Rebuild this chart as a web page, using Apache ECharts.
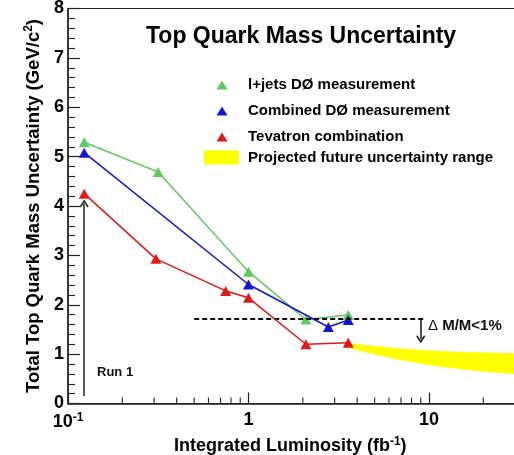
<!DOCTYPE html>
<html>
<head>
<meta charset="utf-8">
<script src="https://cdn.jsdelivr.net/npm/echarts@6/dist/echarts.min.js"></script>
<style>
  html, body { margin: 0; padding: 0; background: #fff; }
  #chart { width: 514px; height: 455px; }
</style>
</head>
<body>
<div id="chart"></div>
<script>
// Integrated luminosity (fb^-1) and total top-quark mass uncertainty (GeV/c^2)
const luminosityLjets = [0.123, 0.316, 1.0, 2.08, 3.57];
const uncertaintyLjets = [5.29, 4.69, 2.67, 1.70, 1.79];

const luminosityCombined = [0.123, 1.0, 2.77, 3.57];
const uncertaintyCombined = [5.08, 2.41, 1.55, 1.69];

const luminosityTevatron = [0.123, 0.307, 0.748, 1.0, 2.08, 3.57];
const uncertaintyTevatron = [4.25, 2.93, 2.28, 2.14, 1.20, 1.23];

// Projected band: lower and upper edge of the expected uncertainty
const projectionLuminosity = [3.57, 5, 7, 10, 15, 20, 30];
const projectionHigh = [1.22, 1.16, 1.11, 1.07, 1.04, 1.03, 1.01];
const projectionLow  = [1.13, 1.00, 0.88, 0.78, 0.70, 0.65, 0.60];

// 1% of the top mass, drawn as a dashed reference level
const onePercentLevel = 1.72;
const onePercentRange = [0.5, 9.3];
const onePercentArrowX = 9.0;
const onePercentArrowEnd = 1.30;

// Run 1 marker arrow
const run1Luminosity = 0.123;
const run1ArrowRange = [0.15, 4.05];

// Axis ticks
const yTickValues = [0, 1, 2, 3, 4, 5, 6, 7, 8];
const xMajorTicks = [0.1, 1, 10];
const xTickLabels = ['10^-1', '1', '10'];
const xMinorTicks = [0.2, 0.3, 0.4, 0.5, 0.6, 0.7, 0.8, 0.9,
                     2, 3, 4, 5, 6, 7, 8, 9, 20, 30, 40, 50, 60, 70, 80, 90];

const FONT = "'Liberation Sans', Arial, Helvetica, sans-serif";
const AXIS_COLOR = '#222';
const GREEN = '#62c862';
const BLUE = '#1414d2';
const RED = '#e01818';
const YELLOW = '#ffff00';

const pairs = (xs, ys) => xs.map((x, i) => [x, ys[i]]);
const chevron = 'path://M5,0 L10,7 L8.6,7.9 L5,2.6 L1.4,7.9 L0,7 Z';

const chart = echarts.init(document.getElementById('chart'), null, { renderer: 'canvas' });

const option = {
  animation: false,
  backgroundColor: '#fff',
  textStyle: { fontFamily: FONT },
  title: {
    text: 'Top Quark Mass Uncertainty',
    left: 146,
    top: 25,
    padding: 0,
    textStyle: { fontFamily: FONT, fontSize: 23, fontWeight: 'bold', color: '#000' }
  },
  legend: [
    {
      data: ['l+jets DØ measurement', 'Combined DØ measurement', 'Tevatron combination'],
      orient: 'vertical',
      left: 216.5,
      top: 77.5,
      itemWidth: 11,
      itemHeight: 9,
      itemGap: 11,
      icon: 'triangle',
      selectedMode: false,
      padding: 0,
      textStyle: { fontFamily: FONT, fontSize: 15, fontWeight: 'bold', color: '#000', padding: [0, 0, 0, 15.5] }
    },
    {
      data: ['Projected future uncertainty range'],
      orient: 'vertical',
      left: 204,
      top: 150,
      itemWidth: 35,
      itemHeight: 14,
      icon: 'rect',
      selectedMode: false,
      padding: 0,
      textStyle: { fontFamily: FONT, fontSize: 15, fontWeight: 'bold', color: '#000', padding: [0, 0, 0, 4] }
    }
  ],
  grid: {
    left: 68,
    top: 8.5,
    width: 541.5,
    height: 395,
    outerBoundsMode: 'none',
    containLabel: false,
    show: true,
    borderColor: AXIS_COLOR,
    borderWidth: 1.2,
    backgroundColor: 'transparent'
  },
  xAxis: {
    type: 'log',
    logBase: 10,
    min: 0.1,
    max: 100,
    name: 'Integrated Luminosity (fb{sup|-1})',
    nameLocation: 'middle',
    nameGap: 30,
    nameTextStyle: {
      fontFamily: FONT, fontSize: 18, fontWeight: 'bold', color: '#000',
      padding: [0, 97, 0, 0],
      rich: {
        sup: { fontFamily: FONT, fontSize: 12, fontWeight: 'bold', color: '#000', padding: [0, 0, 9, 0] }
      }
    },
    axisLine: { show: true, lineStyle: { color: AXIS_COLOR, width: 1.5 } },
    axisTick: { show: true, inside: true, length: 11, lineStyle: { color: AXIS_COLOR, width: 1.2 } },
    splitLine: { show: false },
    axisLabel: {
      margin: 8,
      fontFamily: FONT, fontSize: 18, fontWeight: 'bold', color: '#000',
      formatter: function (v) {
        const i = xMajorTicks.findIndex(t => Math.abs(Math.log10(t) - Math.log10(v)) < 1e-6);
        if (i < 0) return '';
        const s = xTickLabels[i];
        if (s.indexOf('^') >= 0) {
          const parts = s.split('^');
          return '{base|' + parts[0] + '}{sup|' + parts[1] + '}';
        }
        return s;
      },
      rich: {
        base: { fontFamily: FONT, fontSize: 18, fontWeight: 'bold', color: '#000' },
        sup: { fontFamily: FONT, fontSize: 12, fontWeight: 'bold', color: '#000', padding: [0, 0, 9, 0] }
      }
    }
  },
  yAxis: {
    type: 'value',
    min: yTickValues[0],
    max: yTickValues[yTickValues.length - 1],
    interval: 1,
    name: 'Total Top Quark Mass Uncertainty (GeV/c{sup|2})',
    nameLocation: 'middle',
    nameGap: 23,
    nameTextStyle: {
      fontFamily: FONT, fontSize: 18.5, fontWeight: 'bold', color: '#000',
      rich: {
        sup: { fontFamily: FONT, fontSize: 12, fontWeight: 'bold', color: '#000', padding: [0, 0, 9, 0] }
      }
    },
    axisLine: { show: true, lineStyle: { color: AXIS_COLOR, width: 1.5 } },
    axisTick: { show: true, inside: true, length: 12, lineStyle: { color: AXIS_COLOR, width: 1.2 } },
    minorTick: { show: true, splitNumber: 5, length: 7, lineStyle: { color: AXIS_COLOR, width: 1.1 } },
    splitLine: { show: false },
    minorSplitLine: { show: false },
    axisLabel: {
      margin: 4,
      fontFamily: FONT, fontSize: 18, fontWeight: 'bold', color: '#000'
    }
  },
  series: [
    {
      // Projected uncertainty band, drawn as one polygon between its lower and upper edge
      name: 'Projected future uncertainty range',
      type: 'custom',
      silent: true,
      clip: true,
      itemStyle: { color: YELLOW },
      data: projectionLuminosity.map((x, i) => [x, projectionLow[i], projectionHigh[i]]),
      renderItem: function (params, api) {
        if (params.dataIndex !== 0) return null;
        const upper = projectionLuminosity.map((x, i) => api.coord([x, projectionHigh[i]]));
        const lower = projectionLuminosity.map((x, i) => api.coord([x, projectionLow[i]])).reverse();
        return {
          type: 'polygon',
          shape: { points: upper.concat(lower) },
          style: { fill: YELLOW, stroke: YELLOW, lineWidth: 0.5 }
        };
      },
      z: 1
    },
    {
      name: 'l+jets DØ measurement',
      type: 'line',
      data: pairs(luminosityLjets, uncertaintyLjets),
      symbol: 'triangle',
      symbolSize: [11, 10],
      lineStyle: { color: GREEN, width: 1.5 },
      itemStyle: { color: GREEN },
      z: 3
    },
    {
      name: 'Combined DØ measurement',
      type: 'line',
      data: pairs(luminosityCombined, uncertaintyCombined),
      symbol: 'triangle',
      symbolSize: [11, 10],
      lineStyle: { color: BLUE, width: 1.5 },
      itemStyle: { color: BLUE },
      z: 4
    },
    {
      name: 'Tevatron combination',
      type: 'line',
      data: pairs(luminosityTevatron, uncertaintyTevatron),
      symbol: 'triangle',
      symbolSize: [11, 10],
      lineStyle: { color: RED, width: 1.5 },
      itemStyle: { color: RED },
      z: 5
    },
    {
      // Minor ticks of the logarithmic luminosity axis (2..9 within each decade)
      name: 'luminosity minor ticks',
      type: 'custom',
      silent: true,
      clip: true,
      data: xMinorTicks.map(v => [v, 0]),
      renderItem: function (params, api) {
        const p = api.coord([api.value(0), 0]);
        return {
          type: 'line',
          shape: { x1: p[0], y1: p[1], x2: p[0], y2: p[1] - 6 },
          style: { stroke: AXIS_COLOR, lineWidth: 1.1 }
        };
      },
      z: 6
    },
    {
      // Reference level and arrows
      name: 'annotations',
      type: 'line',
      data: [],
      silent: true,
      markLine: {
        silent: true,
        animation: false,
        label: { show: false },
        symbol: ['none', 'none'],
        data: [
          [
            { coord: [onePercentRange[0], onePercentLevel],
              lineStyle: { color: '#000', width: 2, type: [5, 3] } },
            { coord: [onePercentRange[1], onePercentLevel] }
          ],
          [
            { coord: [onePercentArrowX, onePercentLevel], symbol: 'none',
              lineStyle: { color: '#111', width: 1.5, type: 'solid' } },
            { coord: [onePercentArrowX, onePercentArrowEnd], symbol: chevron, symbolSize: [9, 8] }
          ],
          [
            { coord: [run1Luminosity, run1ArrowRange[0]], symbol: 'none',
              lineStyle: { color: '#222', width: 1.5, type: 'solid' } },
            { coord: [run1Luminosity, run1ArrowRange[1]], symbol: chevron, symbolSize: [9, 8] }
          ]
        ]
      },
      z: 6
    }
  ],
  graphic: [
    {
      type: 'text',
      left: 97,
      top: 366,
      z: 100,
      style: { text: 'Run 1', font: 'bold 13px ' + FONT, fill: '#111' }
    },
    {
      type: 'text',
      left: 428,
      top: 318,
      z: 100,
      style: {
        text: '{d|Δ} M/M<1%',
        font: 'bold 15px ' + FONT,
        fill: '#111',
        rich: { d: { fontFamily: FONT, fontSize: 15, fontWeight: 'normal', fill: '#111' } }
      }
    }
  ]
};

chart.setOption(option);
</script>
</body>
</html>
